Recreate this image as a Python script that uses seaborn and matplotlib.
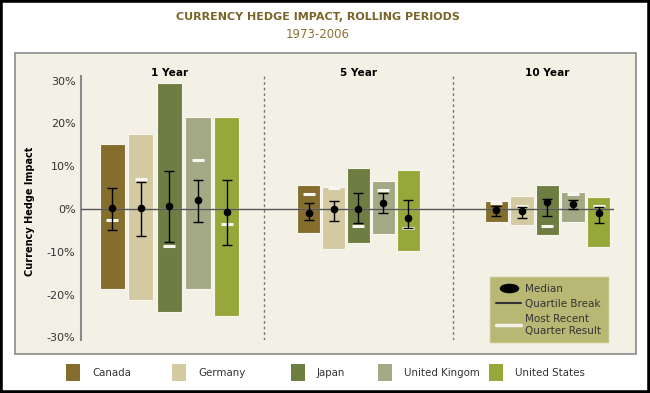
import numpy as np
import pandas as pd
import seaborn as sns
import matplotlib
matplotlib.use('Agg')
import matplotlib.pyplot as plt
from matplotlib.patches import Rectangle
from matplotlib.lines import Line2D
from matplotlib.path import Path
from matplotlib.transforms import Affine2D, blended_transform_factory

# values, one row per country: 1 Year, 5 Year, 10 Year
periods = ['1 Year', '5 Year', '10 Year']
countries = ['Canada', 'Germany', 'Japan', 'United Kingom', 'United States']
colors = ['#846d2d', '#d3caa2', '#6e7e42', '#a3a985', '#96a83a']

range_high = [[15.2, 5.7, 1.9], [17.5, 5.2, 3.0], [29.5, 9.5, 5.7], [21.6, 6.6, 3.9], [21.6, 9.1, 2.8]]
range_low = [[-18.6, -5.7, -3.1], [-21.3, -9.4, -3.7], [-24.1, -8.0, -6.0], [-18.6, -5.8, -3.0], [-25.0, -9.8, -8.8]]
median = [[0.3, -0.9, -0.2], [0.3, 0.0, -0.4], [0.8, 0.0, 1.6], [2.2, 1.3, 1.1], [-0.6, -2.0, -1.0]]
quart_high = [[5.0, 1.4, 0.7], [6.4, 1.8, 0.4], [8.9, 3.7, 2.3], [6.9, 3.8, 2.2], [6.8, 2.2, 0.5]]
quart_low = [[-4.8, -2.6, -1.7], [-6.2, -2.7, -2.0], [-7.6, -3.3, -1.6], [-3.0, -1.0, 0.0], [-8.3, -4.4, -3.2]]
recent = [[-2.6, 3.4, 1.5], [7.1, 5.0, 0.8], [-8.6, -3.9, -4.0], [11.4, 4.5, 3.4], [-3.4, -4.5, 0.6]]

rows = []
for j, c in enumerate(countries):
    for i, p in enumerate(periods):
        rows.append(dict(country=c, period=p, pidx=i, cidx=j,
                         high=range_high[j][i], low=range_low[j][i],
                         med=median[j][i], qh=quart_high[j][i], ql=quart_low[j][i],
                         rec=recent[j][i]))
df = pd.DataFrame(rows)

sns.set_style('white')
plt.rcParams['font.family'] = ['DejaVu Sans']

title_col = '#7a6428'
text_col = '#333333'

fig = plt.figure(figsize=(6.5, 3.93), dpi=100)
fig.patch.set_facecolor('white')

# cream panel behind the plot
fig.patches.append(Rectangle((0.023, 0.099), 0.955, 0.766, transform=fig.transFigure,
                             facecolor='#f3f0e6', edgecolor='#8a8a8a', lw=1.2, zorder=-5))
# outer black frame
fig.patches.append(Rectangle((0, 0), 1, 1, transform=fig.transFigure,
                             fill=False, edgecolor='black', lw=4, zorder=10))

ax = fig.add_axes([0.1246, 0.1349, 0.82, 0.6718])
ax.patch.set_alpha(0)

# the 1 year group is drawn a bit wider than the others
group_w = [0.755, 0.66, 0.677]
group_gap = [0.12, 0.1, 0.08]
for i, p in enumerate(periods):
    sub = df[df['period'] == p]
    for col in ['high', 'low']:
        sns.barplot(data=sub, x='period', y=col, hue='country', order=periods, hue_order=countries,
                    palette=colors, width=group_w[i], gap=group_gap[i], saturation=1, errorbar=None,
                    edgecolor='#f8f6ef', linewidth=0.8, legend=False, ax=ax)

slot = np.array(group_w)[df['pidx']] / len(countries)
xpos = df['pidx'] + (df['cidx'] - 2) * slot

ax.axhline(0, color='#555555', lw=1, zorder=3)
ax.errorbar(xpos, df['med'], yerr=[df['med'] - df['ql'], df['qh'] - df['med']],
            fmt='o', color='black', ms=4.5, capsize=3.8, elinewidth=1, capthick=1, zorder=5)
ax.plot(xpos, df['rec'], linestyle='none', marker='_', ms=8, mew=2.2, color='#f7f5ee', zorder=4)

for sep in [0.5, 1.5]:
    ax.axvline(sep, color='#777777', lw=1, linestyle=(0, (2, 2)), zorder=1)

ax.set_xlim(-0.468, 2.352)
ax.set_ylim(-30.6, 31.1)
ax.set_yticks([-30, -20, -10, 0, 10, 20, 30])
ax.set_yticklabels(['%d%%' % v for v in [-30, -20, -10, 0, 10, 20, 30]], fontsize=8, color=text_col)
ax.set_xticks([])
ax.set_xlabel('')
ax.set_ylabel('')
ax.tick_params(axis='y', length=0, pad=4)
for s in ['top', 'right', 'bottom']:
    ax.spines[s].set_visible(False)
ax.spines['left'].set_color('#8a8a8a')
ax.spines['left'].set_linewidth(1.5)

trans = blended_transform_factory(ax.transData, fig.transFigure)
for i, p in enumerate(periods):
    ax.text(i, 1 - 72.5 / 393, p, transform=trans, ha='center', va='center',
            fontsize=7.6, fontweight='bold', color='black')

fig.text(0.046, 0.463, 'Currency Hedge Impact', rotation=90, ha='center', va='center',
         fontsize=7, fontweight='bold', color='black')
fig.text(0.489, 1 - 17 / 393, 'CURRENCY HEDGE IMPACT, ROLLING PERIODS', ha='center', va='center',
         fontsize=8, fontweight='bold', color=title_col)
fig.text(0.489, 1 - 34 / 393, '1973-2006', ha='center', va='center', fontsize=8.5, color='#8a7336')

# key for markers
ellipse = Path.unit_circle().transformed(Affine2D().scale(1, 0.45))
handles = [Line2D([], [], linestyle='none', marker=ellipse, ms=13, color='black'),
           Line2D([], [], color='#333333', lw=1.5),
           Line2D([], [], color='#f4f2e8', lw=2.5)]
leg = ax.legend(handles, ['Median', 'Quartile Break', 'Most Recent\nQuarter Result'],
                loc='lower left', bbox_to_anchor=(490 / 650, 1 - 342 / 393),
                bbox_transform=fig.transFigure, fontsize=7.5, labelcolor=text_col,
                facecolor='#b8b774', edgecolor='#c4c385', framealpha=1, fancybox=False,
                handlelength=2.4, handletextpad=0.4, borderpad=0.6, labelspacing=0.5,
                borderaxespad=0)
leg.set_zorder(6)

# country key along the bottom
key_x = [66, 172, 291, 378, 489]
for kx, c, col in zip(key_x, countries, colors):
    fig.patches.append(Rectangle((kx / 650, 1 - 381 / 393), 14 / 650, 17 / 393,
                                 transform=fig.transFigure, facecolor=col, edgecolor='none'))
    fig.text((kx + 26) / 650, 1 - 372.5 / 393, c, ha='left', va='center', fontsize=7.4, color=text_col)

fig.savefig('out.png', dpi=100)
